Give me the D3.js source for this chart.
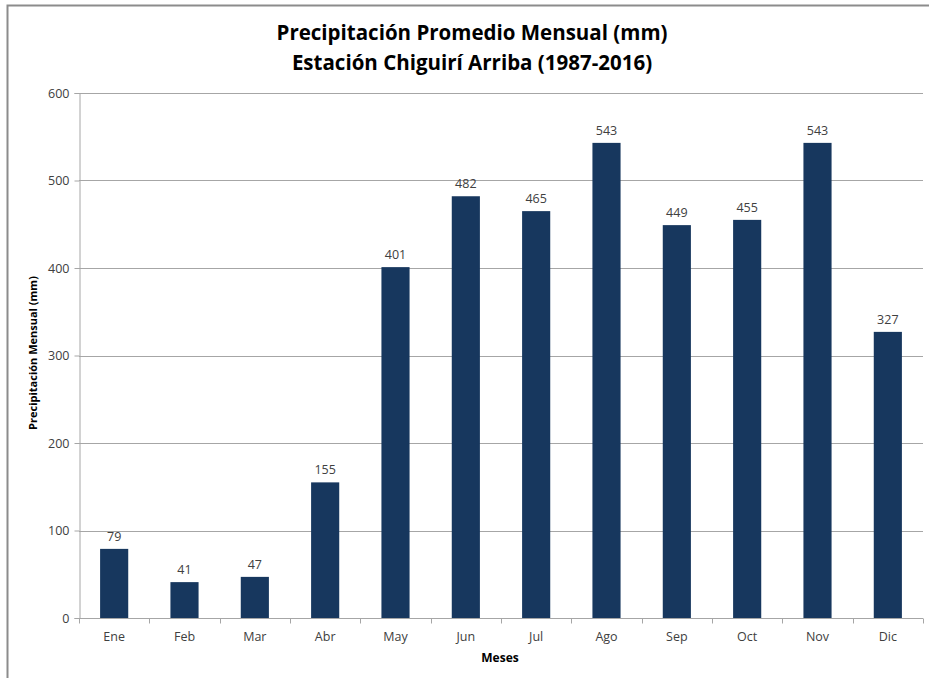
<!DOCTYPE html>
<html><head><meta charset="utf-8">
<script src="https://cdn.jsdelivr.net/npm/d3@7"></script>
<style>body{margin:0;background:#fff}svg{display:block}text{font-family:"Open Sans",Lato,sans-serif}</style>
</head><body><svg id="c" width="929" height="678"></svg>
<script>
const months = ["Ene","Feb","Mar","Abr","May","Jun","Jul","Ago","Sep","Oct","Nov","Dic"];
const precip = [79,41,47,155,401,482,465,543,449,455,543,327];
const yTicks = [0,100,200,300,400,500,600];
const titleLines = ["Precipitación Promedio Mensual (mm)","Estación Chiguirí Arriba (1987-2016)"];
const yTitle = "Precipitación Mensual (mm)";
const xTitle = "Meses";

const svg = d3.select("#c");
const W = 929, H = 678;
const m = {l:79, r:6, t:93, b:60};
const x = d3.scaleBand().domain(months).range([m.l, W-m.r]).paddingInner(0.6).paddingOuter(0.3);
const y = d3.scaleLinear().domain([0,600]).range([H-m.b, m.t]);

// frame
svg.append("path").attr("d",`M7.5,${H} V5.5 H${W}`).attr("fill","none").attr("stroke","#8c8c8c").attr("stroke-width",2);

// grid
svg.append("g").selectAll("line").data(yTicks.filter(d=>d>0)).join("line")
  .attr("x1",m.l).attr("x2",W-m.r).attr("y1",d=>Math.round(y(d))+0.5).attr("y2",d=>Math.round(y(d))+0.5)
  .attr("stroke","#a6a6a6").attr("stroke-width",1);

// y axis
const ya = svg.append("g").attr("transform",`translate(${m.l+0.5},0)`)
  .call(d3.axisLeft(y).tickValues(yTicks).tickSize(5).tickPadding(5));
ya.select(".domain").attr("stroke","#a6a6a6");
ya.selectAll(".tick line").attr("stroke","#a6a6a6");
ya.selectAll("text").attr("font-size",12.5).attr("fill","#404040");

// x axis with boundary ticks
const xa = svg.append("g").attr("transform",`translate(0,${Math.round(y(0))+0.5})`);
xa.append("line").attr("x1",m.l).attr("x2",W-m.r).attr("stroke","#a6a6a6");
const bounds = d3.range(months.length+1).map(i=>m.l + i*(W-m.r-m.l)/months.length);
xa.selectAll(".bt").data(bounds).join("line").attr("class","bt")
  .attr("x1",d=>Math.round(d)+0.5).attr("x2",d=>Math.round(d)+0.5).attr("y1",0).attr("y2",5).attr("stroke","#a6a6a6");
xa.selectAll(".lbl").data(months).join("text").attr("class","lbl")
  .attr("x",d=>x(d)+x.bandwidth()/2).attr("y",22).attr("text-anchor","middle")
  .attr("font-size",12.5).attr("fill","#404040").text(d=>d);

// bars
svg.append("g").selectAll("rect").data(precip).join("rect")
  .attr("x",(d,i)=>x(months[i])).attr("width",x.bandwidth())
  .attr("y",d=>y(d)).attr("height",d=>y(0)-y(d)).attr("fill","#17375e");

// labels
svg.append("g").selectAll("text").data(precip).join("text")
  .attr("x",(d,i)=>x(months[i])+x.bandwidth()/2).attr("y",d=>y(d)-8)
  .attr("text-anchor","middle").attr("font-size",12.5).attr("fill","#404040").text(d=>d);

// titles
svg.append("g").selectAll("text").data(titleLines).join("text")
  .attr("x",472).attr("y",(d,i)=>40+i*30).attr("text-anchor","middle")
  .attr("font-size",20.5).attr("font-weight","bold").attr("fill","#000").text(d=>d);
svg.append("text").attr("transform",`translate(37,353) rotate(-90)`).attr("text-anchor","middle")
  .attr("font-size",11).attr("font-weight","bold").text(yTitle);
svg.append("text").attr("x",500).attr("y",662).attr("text-anchor","middle")
  .attr("font-size",12).attr("font-weight","bold").text(xTitle);
</script></body></html>
